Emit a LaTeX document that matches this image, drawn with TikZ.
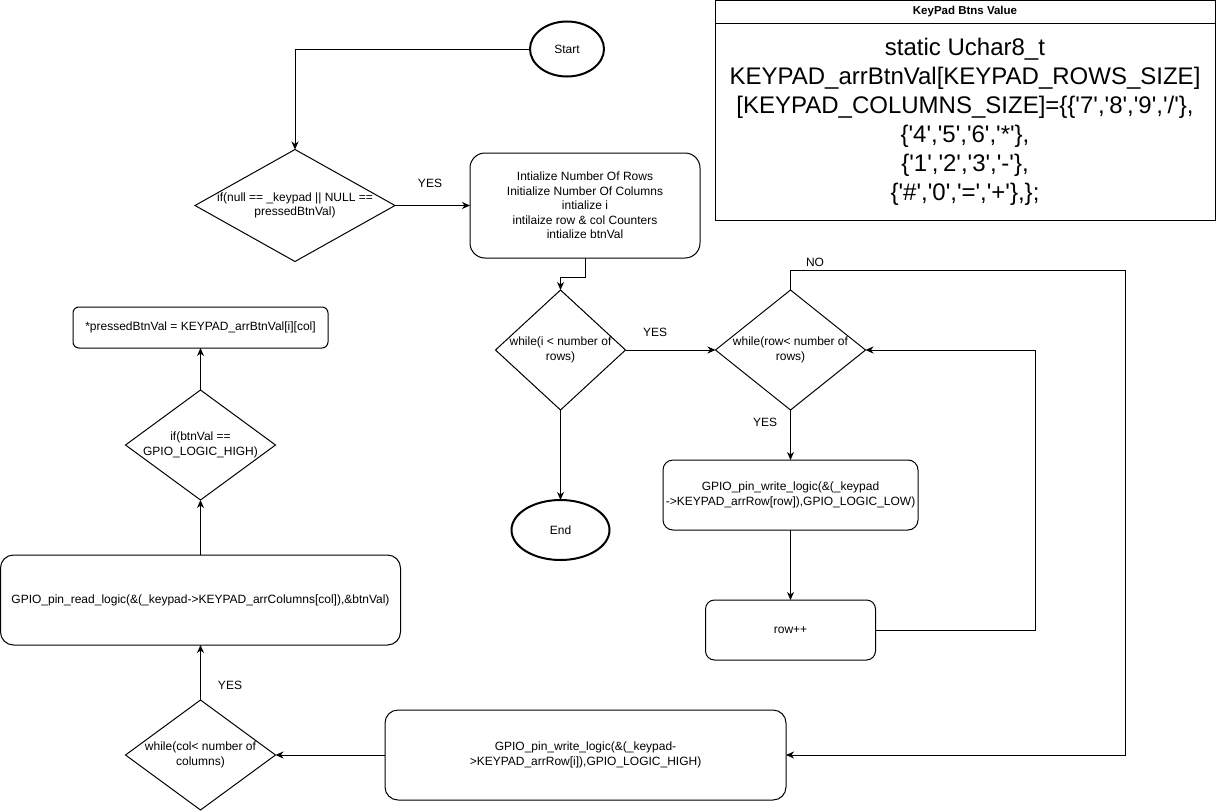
\documentclass[tikz,border=0pt]{standalone}
\usepackage{fontspec}
\setmainfont{Liberation Sans}
\usetikzlibrary{shapes.geometric,arrows.meta}
\newcommand\qq{\textquotesingle}
\begin{document}
\begin{tikzpicture}[x=1pt,y=-1pt,
  line width=1pt,
  every node/.style={inner sep=0pt, outer sep=0pt},
  ft/.style={font=\fontsize{12}{14.4}\selectfont},
  txt/.style={ft, align=center},
  term/.style={ellipse, draw, line width=2pt, ft},
  dia/.style={diamond, draw},
  proc/.style={rectangle, draw, ft, align=center},
  arr/.style={-{Stealth[length=8pt,width=7pt,inset=2.5pt]}},
]
\useasboundingbox (0,0) rectangle (1216,811);

% keypad values box
\node[draw, minimum width=500pt, minimum height=23pt, anchor=north west,
      font=\fontsize{11.5}{13}\selectfont\bfseries] (kh) at (715,0.5) {KeyPad Btns Value};
\node[draw, minimum width=500pt, minimum height=197pt, anchor=north, align=center,
      font=\fontsize{24}{29}\selectfont] (kb) at (kh.south)
 {static Uchar8\_t\\
  KEYPAD\_arrBtnVal[KEYPAD\_ROWS\_SIZE]\\
  {}[KEYPAD\_COLUMNS\_SIZE]=\{\{\qq7\qq,\qq8\qq,\qq9\qq,\qq/\qq\},\\
  \{\qq4\qq,\qq5\qq,\qq6\qq,\qq*\qq\},\\
  \{\qq1\qq,\qq2\qq,\qq3\qq,\qq-\qq\},\\
  \{\qq\#\qq,\qq0\qq,\qq=\qq,\qq+\qq\},\};};

% terminals
\node[term, minimum width=74pt, minimum height=55pt] (start) at (567,49) {Start};
\node[term, minimum width=98pt, minimum height=60pt] (end) at (560.5,530) {End};

% decisions
\node[dia, minimum width=200pt, minimum height=112pt] (d1) at (295,205.5) {};
\node[txt] at (d1) {if(null == \_keypad || NULL ==\\pressedBtnVal)};
\node[dia, minimum width=130pt, minimum height=120pt] (wi) at (560.5,350) {};
\node[txt] at (wi) {while(i < number of\\rows)};
\node[dia, minimum width=150pt, minimum height=120pt] (wr) at (790.5,350) {};
\node[txt] at (wr) {while(row< number of\\rows)};
\node[dia, minimum width=150pt, minimum height=110pt] (ib) at (200.5,445) {};
\node[txt] at (ib) {if(btnVal ==\\GPIO\_LOGIC\_HIGH)};
\node[dia, minimum width=150pt, minimum height=110pt] (wc) at (200.5,755) {};
\node[txt] at (wc) {while(col< number of\\columns)};

% processes
\node[proc, rounded corners=15pt, minimum width=230pt, minimum height=105pt] (p1) at (585,205.5)
 {Intialize Number Of Rows\\Initialize Number Of Columns\\intialize i\\intilaize row \& col Counters\\intialize btnVal};
\node[proc, rounded corners=10pt, minimum width=255pt, minimum height=70pt] (gl) at (790.5,495)
 {GPIO\_pin\_write\_logic(\&(\_keypad\\->KEYPAD\_arrRow[row]),GPIO\_LOGIC\_LOW)};
\node[proc, rounded corners=9pt, minimum width=170pt, minimum height=60pt] (rp) at (790.5,630) {row++};
\node[proc, rounded corners=13pt, minimum width=401pt, minimum height=90pt] (gh) at (585.5,755)
 {GPIO\_pin\_write\_logic(\&(\_keypad-\\>KEYPAD\_arrRow[i]),GPIO\_LOGIC\_HIGH)};
\node[proc, rounded corners=13pt, minimum width=400pt, minimum height=90pt] (rl) at (200.5,600)
 {GPIO\_pin\_read\_logic(\&(\_keypad->KEYPAD\_arrColumns[col]),\&btnVal)};
\node[proc, rounded corners=6pt, minimum width=255pt, minimum height=41pt] (pb) at (200.5,327.5)
 {*pressedBtnVal = KEYPAD\_arrBtnVal[i][col]};

% helper coordinates
\coordinate (nor) at (1125,270);
\coordinate (rr) at (1035,350);
\coordinate (pj) at (585,277);

% connectors
\draw[arr] (start.west) -| (d1.north);
\draw[arr] (d1.east) -- (p1.west);
\node[txt] at (430,183) {YES};
\draw[arr] (p1.south) -- (pj) -| (wi.north);
\draw[arr] (wi.south) -- (end.north);
\draw[arr] (wi.east) -- (wr.west);
\node[txt] at (655,332) {YES};
\draw[arr] (wr.north) |- (nor) |- (gh.east);
\node[txt] at (815,262) {NO};
\draw[arr] (wr.south) -- (gl.north);
\node[txt] at (765,422) {YES};
\draw[arr] (gl.south) -- (rp.north);
\draw[arr] (rp.east) -| (rr) -- (wr.east);
\draw[arr] (gh.west) -- (wc.east);
\draw[arr] (wc.north) -- (rl.south);
\node[txt] at (230,685) {YES};
\draw[arr] (rl.north) -- (ib.south);
\draw[arr] (ib.north) -- (pb.south);
\end{tikzpicture}
\end{document}
